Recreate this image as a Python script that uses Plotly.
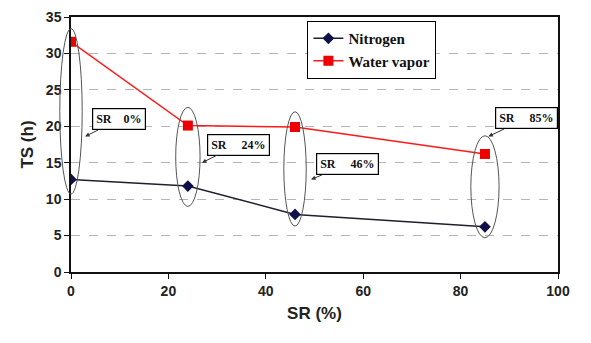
import plotly.graph_objects as go

sr = [0, 24, 46, 85]
nitrogen = [12.7, 11.8, 7.9, 6.2]
water_vapor = [31.6, 20.1, 19.9, 16.2]
NB = "\u00a0"
labels = ["SR" + NB * 4 + "0%", "SR" + NB * 5 + "24%", "SR" + NB * 5 + "46%", "SR" + NB * 5 + "85%"]
x_ticks = [0, 20, 40, 60, 80, 100]
y_ticks = [0, 5, 10, 15, 20, 25, 30, 35]

XMIN, XMAX = 0, 100
YMIN, YMAX = 0, 35

# ellipse decorations (x half-width, y bottom, y top) around each SR pair
ell_hw = [2.3, 2.5, 2.3, 2.9]
ell_y0 = [10.7, 9.0, 6.3, 4.7]
ell_y1 = [33.4, 22.6, 22.0, 18.7]
# arrow heads for callouts and box offsets (px)
head_x = [2.9, 26.9, 49.3, 85.7]
head_y = [18.6, 15.0, 12.7, 18.6]
off_ax = [34, 36, 36, 38]
off_ay = [-17, -18, -15, -18]

AX_FONT = dict(family="Liberation Sans, Arial", size=14, color="#222222", weight="bold")

fig = go.Figure()
fig.add_trace(go.Scatter(
    x=sr, y=nitrogen, name="Nitrogen", mode="lines+markers",
    line=dict(color="#1f1f2e", width=1.5),
    marker=dict(symbol="diamond", size=9, color="#10104a"),
))
fig.add_trace(go.Scatter(
    x=sr, y=water_vapor, name="Water vapor", mode="lines+markers",
    line=dict(color="#ff1a1a", width=1.5),
    marker=dict(symbol="square", size=10, color="#ee0000"),
))

shapes = []
for cx, hw, y0, y1 in zip(sr, ell_hw, ell_y0, ell_y1):
    shapes.append(dict(
        type="circle", xref="x domain", yref="y",
        x0=(cx - hw - XMIN) / (XMAX - XMIN), x1=(cx + hw - XMIN) / (XMAX - XMIN),
        y0=y0, y1=y1, line=dict(color="#555555", width=1), layer="above",
    ))

annotations = []
for t, hx, hy, ax, ay in zip(labels, head_x, head_y, off_ax, off_ay):
    annotations.append(dict(
        x=hx, y=hy, xref="x", yref="y", text="<b>" + t + "</b>",
        showarrow=True, ax=ax, ay=ay, arrowhead=2, arrowsize=0.9, arrowwidth=1,
        arrowcolor="#333333", bordercolor="#000000", borderwidth=1.2, borderpad=3,
        bgcolor="white", font=dict(family="Liberation Serif, Times New Roman", size=12, color="#111111"),
    ))

fig.update_layout(
    width=591, height=343,
    margin=dict(l=71, r=33, t=9, b=71),
    paper_bgcolor="white", plot_bgcolor="white",
    shapes=shapes, annotations=annotations,
    legend=dict(
        x=0.485, y=0.985, xanchor="left", yanchor="top",
        bordercolor="#000000", borderwidth=1.2, bgcolor="white",
        font=dict(family="Liberation Serif, Times New Roman", size=15, color="#111111", weight="bold"),
        tracegroupgap=0, itemwidth=30,
    ),
    xaxis=dict(
        range=[XMIN, XMAX], tickvals=x_ticks, showgrid=False, zeroline=False,
        showline=True, linecolor="#111111", linewidth=1.5, mirror=True,
        ticks="outside", ticklen=5, tickcolor="#111111", tickfont=AX_FONT,
        title=dict(text="SR (%)", font=dict(family="Liberation Sans, Arial", size=17, color="#222222", weight="bold"), standoff=10),
    ),
    yaxis=dict(
        range=[YMIN, YMAX], tickvals=y_ticks, showgrid=True, gridcolor="#b5b5b5", griddash="dash", gridwidth=1,
        zeroline=False, showline=True, linecolor="#111111", linewidth=1.5, mirror=True,
        ticks="outside", ticklen=5, tickcolor="#111111", tickfont=AX_FONT,
        title=dict(text="TS (h)", font=dict(family="Liberation Sans, Arial", size=17, color="#222222", weight="bold"), standoff=8),
    ),
)

fig.write_html("out.html")
